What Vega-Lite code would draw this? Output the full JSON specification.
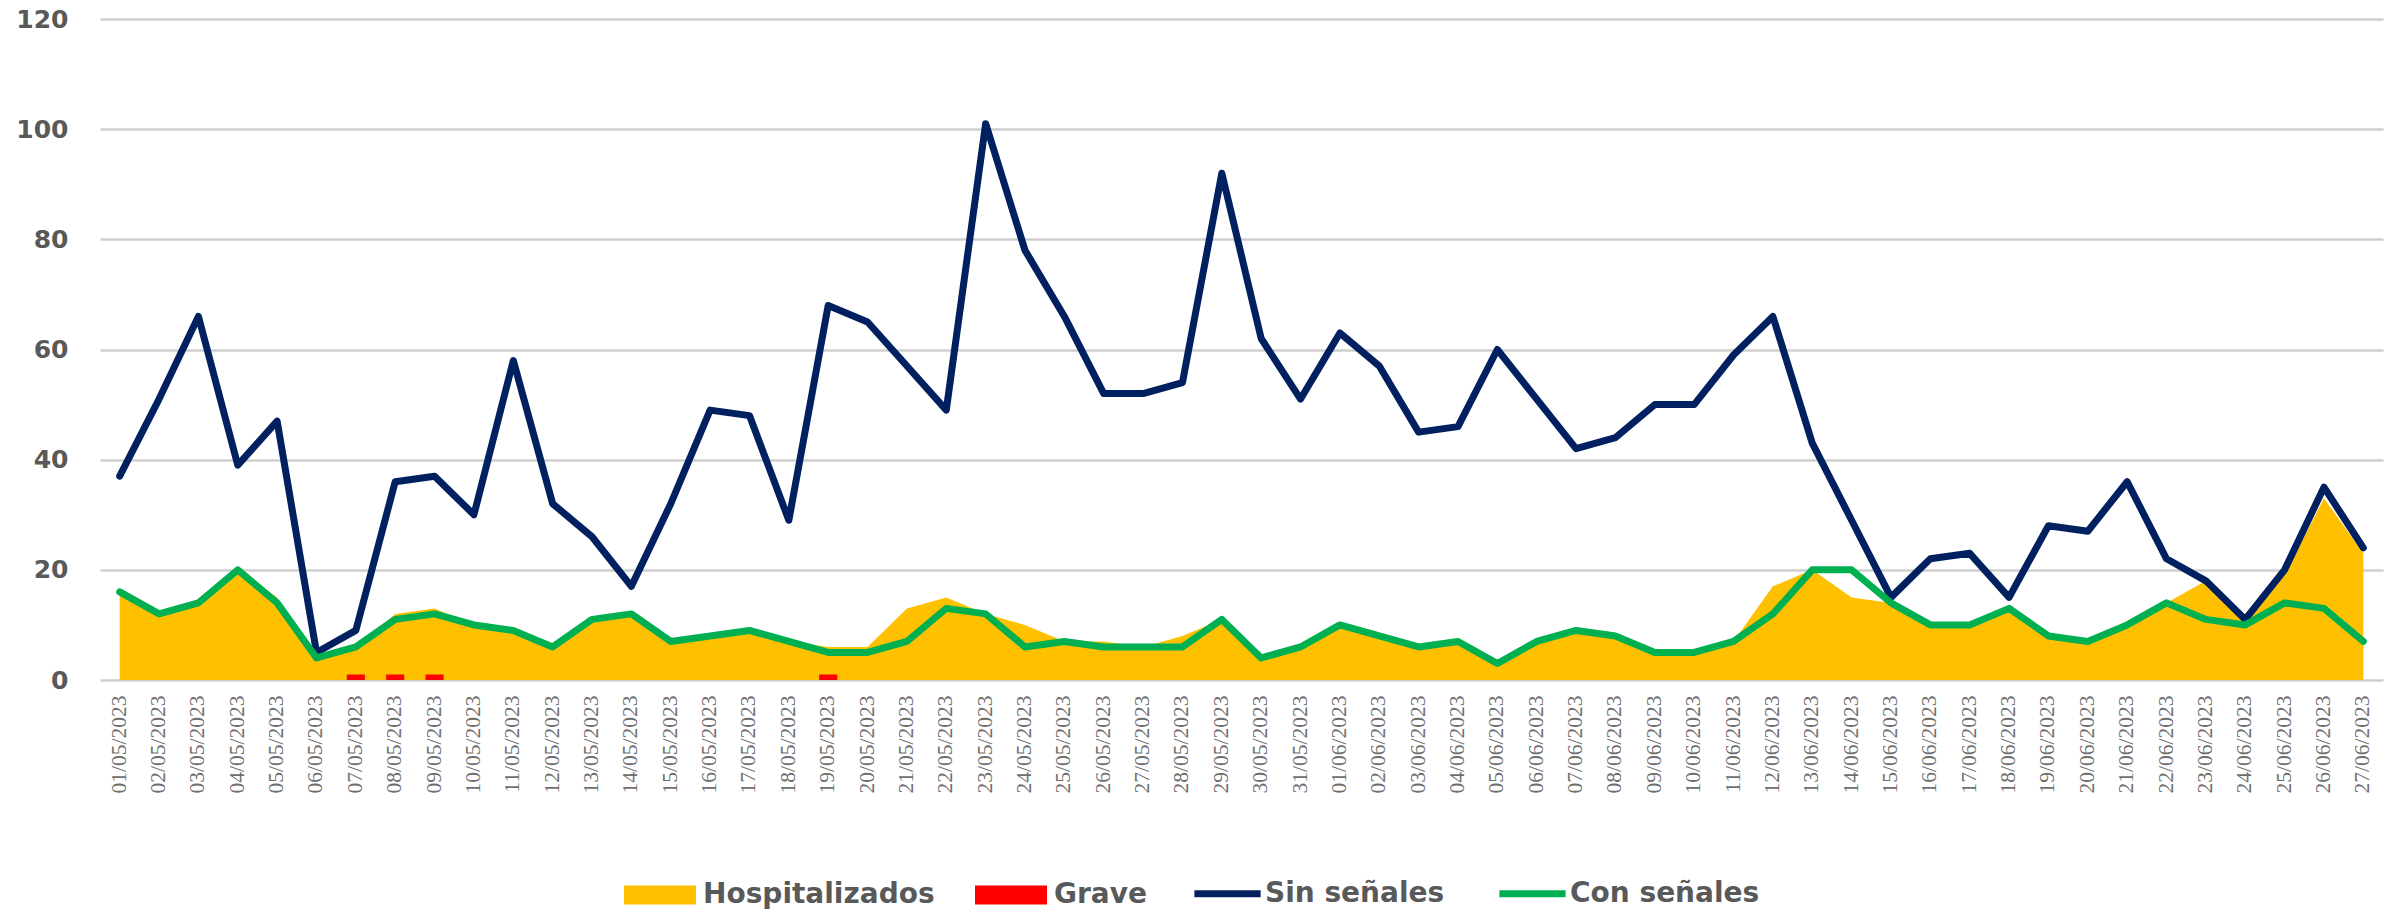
{
  "$schema": "https://vega.github.io/schema/vega-lite/v6.json",
  "autosize": {"type": "none"},
  "padding": {"left": 100, "top": 19, "right": 12, "bottom": 229},
  "width": 2283,
  "height": 661,
  "background": "white",
  "config": {"view": {"stroke": null}},
  "data": {"values": [
    {"fecha": "01/05/2023", "Hospitalizados": 16, "Grave": 0, "Sin": 37, "Con": 16},
    {"fecha": "02/05/2023", "Hospitalizados": 12, "Grave": 0, "Sin": 51, "Con": 12},
    {"fecha": "03/05/2023", "Hospitalizados": 14, "Grave": 0, "Sin": 66, "Con": 14},
    {"fecha": "04/05/2023", "Hospitalizados": 20, "Grave": 0, "Sin": 39, "Con": 20},
    {"fecha": "05/05/2023", "Hospitalizados": 15, "Grave": 0, "Sin": 47, "Con": 14},
    {"fecha": "06/05/2023", "Hospitalizados": 4, "Grave": 0, "Sin": 5, "Con": 4},
    {"fecha": "07/05/2023", "Hospitalizados": 6, "Grave": 1, "Sin": 9, "Con": 6},
    {"fecha": "08/05/2023", "Hospitalizados": 12, "Grave": 1, "Sin": 36, "Con": 11},
    {"fecha": "09/05/2023", "Hospitalizados": 13, "Grave": 1, "Sin": 37, "Con": 12},
    {"fecha": "10/05/2023", "Hospitalizados": 10, "Grave": 0, "Sin": 30, "Con": 10},
    {"fecha": "11/05/2023", "Hospitalizados": 9, "Grave": 0, "Sin": 58, "Con": 9},
    {"fecha": "12/05/2023", "Hospitalizados": 6, "Grave": 0, "Sin": 32, "Con": 6},
    {"fecha": "13/05/2023", "Hospitalizados": 11, "Grave": 0, "Sin": 26, "Con": 11},
    {"fecha": "14/05/2023", "Hospitalizados": 12, "Grave": 0, "Sin": 17, "Con": 12},
    {"fecha": "15/05/2023", "Hospitalizados": 7, "Grave": 0, "Sin": 32, "Con": 7},
    {"fecha": "16/05/2023", "Hospitalizados": 8, "Grave": 0, "Sin": 49, "Con": 8},
    {"fecha": "17/05/2023", "Hospitalizados": 9, "Grave": 0, "Sin": 48, "Con": 9},
    {"fecha": "18/05/2023", "Hospitalizados": 7, "Grave": 0, "Sin": 29, "Con": 7},
    {"fecha": "19/05/2023", "Hospitalizados": 6, "Grave": 1, "Sin": 68, "Con": 5},
    {"fecha": "20/05/2023", "Hospitalizados": 6, "Grave": 0, "Sin": 65, "Con": 5},
    {"fecha": "21/05/2023", "Hospitalizados": 13, "Grave": 0, "Sin": 57, "Con": 7},
    {"fecha": "22/05/2023", "Hospitalizados": 15, "Grave": 0, "Sin": 49, "Con": 13},
    {"fecha": "23/05/2023", "Hospitalizados": 12, "Grave": 0, "Sin": 101, "Con": 12},
    {"fecha": "24/05/2023", "Hospitalizados": 10, "Grave": 0, "Sin": 78, "Con": 6},
    {"fecha": "25/05/2023", "Hospitalizados": 7, "Grave": 0, "Sin": 66, "Con": 7},
    {"fecha": "26/05/2023", "Hospitalizados": 7, "Grave": 0, "Sin": 52, "Con": 6},
    {"fecha": "27/05/2023", "Hospitalizados": 6, "Grave": 0, "Sin": 52, "Con": 6},
    {"fecha": "28/05/2023", "Hospitalizados": 8, "Grave": 0, "Sin": 54, "Con": 6},
    {"fecha": "29/05/2023", "Hospitalizados": 11, "Grave": 0, "Sin": 92, "Con": 11},
    {"fecha": "30/05/2023", "Hospitalizados": 4, "Grave": 0, "Sin": 62, "Con": 4},
    {"fecha": "31/05/2023", "Hospitalizados": 6, "Grave": 0, "Sin": 51, "Con": 6},
    {"fecha": "01/06/2023", "Hospitalizados": 10, "Grave": 0, "Sin": 63, "Con": 10},
    {"fecha": "02/06/2023", "Hospitalizados": 8, "Grave": 0, "Sin": 57, "Con": 8},
    {"fecha": "03/06/2023", "Hospitalizados": 6, "Grave": 0, "Sin": 45, "Con": 6},
    {"fecha": "04/06/2023", "Hospitalizados": 7, "Grave": 0, "Sin": 46, "Con": 7},
    {"fecha": "05/06/2023", "Hospitalizados": 3, "Grave": 0, "Sin": 60, "Con": 3},
    {"fecha": "06/06/2023", "Hospitalizados": 7, "Grave": 0, "Sin": 51, "Con": 7},
    {"fecha": "07/06/2023", "Hospitalizados": 9, "Grave": 0, "Sin": 42, "Con": 9},
    {"fecha": "08/06/2023", "Hospitalizados": 8, "Grave": 0, "Sin": 44, "Con": 8},
    {"fecha": "09/06/2023", "Hospitalizados": 5, "Grave": 0, "Sin": 50, "Con": 5},
    {"fecha": "10/06/2023", "Hospitalizados": 5, "Grave": 0, "Sin": 50, "Con": 5},
    {"fecha": "11/06/2023", "Hospitalizados": 7, "Grave": 0, "Sin": 59, "Con": 7},
    {"fecha": "12/06/2023", "Hospitalizados": 17, "Grave": 0, "Sin": 66, "Con": 12},
    {"fecha": "13/06/2023", "Hospitalizados": 20, "Grave": 0, "Sin": 43, "Con": 20},
    {"fecha": "14/06/2023", "Hospitalizados": 15, "Grave": 0, "Sin": 29, "Con": 20},
    {"fecha": "15/06/2023", "Hospitalizados": 14, "Grave": 0, "Sin": 15, "Con": 14},
    {"fecha": "16/06/2023", "Hospitalizados": 10, "Grave": 0, "Sin": 22, "Con": 10},
    {"fecha": "17/06/2023", "Hospitalizados": 10, "Grave": 0, "Sin": 23, "Con": 10},
    {"fecha": "18/06/2023", "Hospitalizados": 13, "Grave": 0, "Sin": 15, "Con": 13},
    {"fecha": "19/06/2023", "Hospitalizados": 8, "Grave": 0, "Sin": 28, "Con": 8},
    {"fecha": "20/06/2023", "Hospitalizados": 7, "Grave": 0, "Sin": 27, "Con": 7},
    {"fecha": "21/06/2023", "Hospitalizados": 10, "Grave": 0, "Sin": 36, "Con": 10},
    {"fecha": "22/06/2023", "Hospitalizados": 14, "Grave": 0, "Sin": 22, "Con": 14},
    {"fecha": "23/06/2023", "Hospitalizados": 18, "Grave": 0, "Sin": 18, "Con": 11},
    {"fecha": "24/06/2023", "Hospitalizados": 11, "Grave": 0, "Sin": 11, "Con": 10},
    {"fecha": "25/06/2023", "Hospitalizados": 19, "Grave": 0, "Sin": 20, "Con": 14},
    {"fecha": "26/06/2023", "Hospitalizados": 33, "Grave": 0, "Sin": 35, "Con": 13},
    {"fecha": "27/06/2023", "Hospitalizados": 23, "Grave": 0, "Sin": 24, "Con": 7}
  ]},
  "encoding": {
    "x": {
      "field": "fecha", "type": "ordinal", "sort": null,
      "scale": {"type": "band", "paddingInner": 0, "paddingOuter": 0},
      "axis": {
        "title": null, "labelAngle": -90, "ticks": false, "domain": false,
        "labelFont": "Liberation Sans Narrow", "labelFontSize": 21.5, "labelColor": "#6e6e6e",
        "labelPadding": 15, "labelBaseline": "middle", "labelAlign": "right", "labelOverlap": false
      }
    }
  },
  "layer": [
    {
      "mark": {"type": "area", "opacity": 1},
      "encoding": {
        "y": {
          "field": "Hospitalizados", "type": "quantitative",
          "scale": {"domain": [0, 120], "nice": false},
          "axis": {
            "title": null, "values": [0, 20, 40, 60, 80, 100, 120], "ticks": false, "domain": false,
            "labelFont": "DejaVu Sans", "labelFontWeight": "bold", "labelFontSize": 25, "labelColor": "#595959",
            "labelPadding": 32, "gridColor": "#cfcfcf", "gridWidth": 2.5
          }
        },
        "fill": {
          "datum": "Hospitalizados", "type": "nominal",
          "scale": {"domain": ["Hospitalizados", "Grave"], "range": ["#FFC000", "#FF0000"]},
          "legend": {
            "orient": "none", "legendX": 524, "legendY": 840, "direction": "horizontal", "title": null,
            "padding": 0, "symbolSize": 5184, "labelOffset": 7, "columnPadding": 40,
            "labelFont": "DejaVu Sans", "labelFontWeight": "bold", "labelFontSize": 28, "labelColor": "#595959",
            "labelLimit": 500, "symbolType": "M-1,-0.264H1V0.264H-1Z", "symbolStrokeWidth": 0, "symbolOpacity": 1
          }
        }
      }
    },
    {
      "mark": {"type": "bar", "width": {"band": 0.46}},
      "encoding": {
        "y": {"field": "Grave", "type": "quantitative"},
        "fill": {"datum": "Grave", "type": "nominal"}
      }
    },
    {
      "mark": {"type": "line", "strokeWidth": 7, "strokeJoin": "round", "strokeCap": "round"},
      "encoding": {
        "y": {"field": "Sin", "type": "quantitative"},
        "stroke": {
          "datum": "Sin señales", "type": "nominal",
          "scale": {"domain": ["Sin señales", "Con señales"], "range": ["#002060", "#00B050"]},
          "legend": {
            "orient": "none", "legendX": 1088, "legendY": 835, "direction": "horizontal", "title": null,
            "padding": 0, "symbolSize": 5184, "labelOffset": -2, "columnPadding": 40,
            "labelFont": "DejaVu Sans", "labelFontWeight": "bold", "labelFontSize": 28, "labelColor": "#595959",
            "labelLimit": 500, "symbolType": "M-0.92,0H0.92", "symbolStrokeWidth": 7, "symbolOpacity": 1,
            "symbolFillColor": "transparent"
          }
        }
      }
    },
    {
      "mark": {"type": "line", "strokeWidth": 7, "strokeJoin": "round", "strokeCap": "round"},
      "encoding": {
        "y": {"field": "Con", "type": "quantitative"},
        "stroke": {"datum": "Con señales", "type": "nominal"}
      }
    }
  ]
}
